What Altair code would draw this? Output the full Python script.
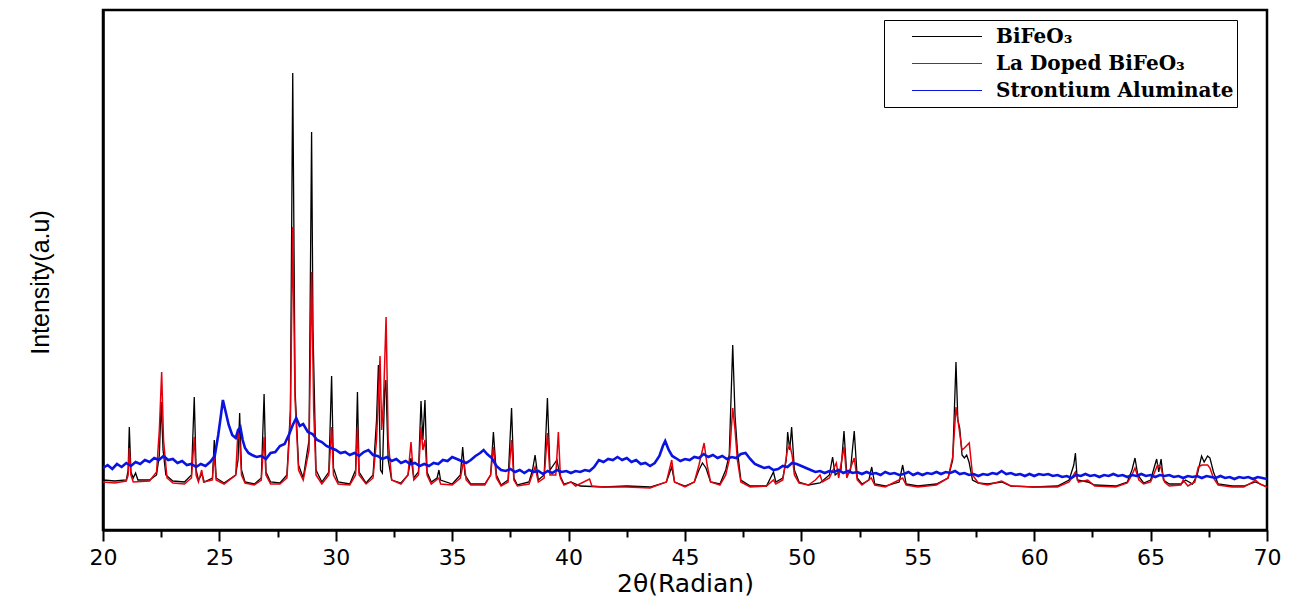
import altair as alt
import pandas as pd

# ---- data (intensity in arbitrary units) ----
bfo_x = [20.0, 20.5, 21.0, 21.08, 21.13, 21.2, 21.3, 21.4, 21.5, 22.0, 22.3, 22.42, 22.5, 22.58, 22.7,
         23.0, 23.5, 23.8, 23.92, 24.0, 24.1, 24.25, 24.35, 24.7, 24.78, 24.86, 25.2, 25.7, 25.8, 25.87,
         25.95, 26.1, 26.5, 26.8, 26.92, 27.0, 27.2, 27.6, 27.9, 28.05, 28.15, 28.25, 28.4, 28.6, 28.85,
         28.96, 29.02, 29.15, 29.4, 29.7, 29.82, 29.9, 30.1, 30.6, 30.85, 30.93, 31.0, 31.3, 31.6, 31.75,
         31.83, 31.92, 32.0, 32.1, 32.15, 32.25, 32.4, 32.8, 33.1, 33.23, 33.35, 33.55, 33.66, 33.74, 33.83,
         33.92, 34.1, 34.35, 34.43, 34.5, 35.0, 35.35, 35.45, 35.55, 35.8, 36.4, 36.65, 36.77, 36.9, 37.1,
         37.4, 37.55, 37.65, 37.8, 38.3, 38.45, 38.56, 38.7, 38.95, 39.09, 39.2, 39.5, 39.62, 39.8, 40.1,
         40.5, 41.5, 42.5, 43.5, 44.2, 44.43, 44.55, 45.0, 45.4, 45.6, 45.75, 45.9, 46.1, 46.5, 46.75,
         46.9, 47.05, 47.15, 47.25, 47.4, 47.8, 48.5, 48.8, 48.9, 49.2, 49.35, 49.41, 49.5, 49.58, 49.7,
         49.9, 50.3, 50.8, 51.2, 51.34, 51.45, 51.7, 51.83, 51.95, 52.1, 52.27, 52.4, 52.6, 52.9, 53.02,
         53.15, 53.6, 54.2, 54.35, 54.5, 55.0, 55.8, 56.3, 56.5, 56.64, 56.72, 56.8, 56.9, 57.0, 57.1,
         57.2, 57.35, 57.6, 58.0, 58.6, 59.0, 60.0, 61.0, 61.5, 61.7, 61.77, 61.85, 62.3, 62.6, 63.5,
         64.0, 64.2, 64.33, 64.45, 64.7, 65.0, 65.26, 65.35, 65.45, 65.55, 65.8, 66.3, 66.5, 66.8, 67.0,
         67.19, 67.3, 67.45, 67.55, 67.7, 67.9, 68.5, 69.0, 69.5, 69.7, 70.0]
bfo_y = [50, 49, 50, 60, 103, 58, 52, 57, 50, 50, 55, 75, 128, 80, 55,
         49, 48, 55, 133, 60, 50, 56, 48, 52, 90, 52, 47, 55, 70, 117,
         60, 48, 46, 52, 136, 58, 48, 47, 55, 120, 457, 140, 65, 52, 90,
         398, 200, 60, 48, 58, 154, 62, 48, 46, 60, 138, 58, 47, 55, 110,
         165, 60, 57, 140, 150, 70, 50, 47, 55, 72, 52, 58, 129, 90, 130,
         58, 48, 52, 60, 50, 46, 55, 83, 55, 46, 46, 55, 98, 55, 45,
         50, 122, 52, 45, 48, 60, 75, 50, 55, 132, 60, 70, 55, 46, 48,
         44, 43, 44, 43, 48, 63, 48, 44, 48, 60, 67, 62, 48, 46, 60,
         75, 185, 114, 80, 50, 44, 44, 58, 48, 52, 70, 98, 80, 103, 60,
         48, 45, 47, 55, 73, 55, 60, 99, 55, 58, 99, 52, 46, 50, 63,
         46, 44, 48, 65, 46, 44, 46, 52, 70, 168, 110, 102, 75, 72, 75,
         68, 50, 47, 46, 48, 44, 43, 44, 50, 65, 77, 50, 48, 45, 44,
         48, 60, 72, 55, 47, 50, 71, 58, 71, 50, 46, 46, 50, 46, 55,
         74, 68, 74, 72, 58, 46, 44, 44, 48, 46, 43]

la_x = [20.0, 20.5, 21.0, 21.08, 21.13, 21.2, 21.3, 22.0, 22.3, 22.42, 22.52, 22.6, 22.75, 23.0, 23.5,
        23.8, 23.92, 24.0, 24.1, 24.24, 24.32, 24.7, 24.78, 24.86, 25.2, 25.7, 25.8, 25.87, 25.95, 26.1,
        26.5, 26.8, 26.92, 27.0, 27.2, 27.6, 27.9, 28.05, 28.15, 28.25, 28.4, 28.6, 28.85, 28.96, 29.05,
        29.15, 29.4, 29.7, 29.82, 29.9, 30.1, 30.6, 30.85, 30.93, 31.0, 31.3, 31.6, 31.75, 31.9, 31.97,
        32.05, 32.16, 32.25, 32.4, 32.8, 33.1, 33.23, 33.35, 33.55, 33.66, 33.74, 33.83, 33.92, 34.1, 34.43,
        34.5, 35.0, 35.35, 35.5, 35.6, 35.8, 36.4, 36.65, 36.77, 36.9, 37.1, 37.4, 37.55, 37.65, 37.8,
        38.3, 38.56, 38.7, 38.95, 39.09, 39.2, 39.45, 39.56, 39.65, 39.8, 40.1, 40.3, 40.9, 41.0, 41.5,
        42.5, 43.5, 44.2, 44.43, 44.55, 45.0, 45.4, 45.6, 45.82, 45.95, 46.1, 46.5, 46.75, 46.9, 47.05,
        47.15, 47.25, 47.4, 47.8, 48.5, 48.8, 48.9, 49.2, 49.4, 49.5, 49.6, 49.7, 49.9, 50.3, 50.6,
        50.8, 50.9, 51.2, 51.5, 51.6, 51.83, 51.95, 52.27, 52.4, 52.6, 53.0, 53.15, 53.6, 54.35, 54.5,
        55.0, 55.8, 56.3, 56.5, 56.64, 56.77, 56.9, 57.0, 57.21, 57.35, 57.6, 58.0, 58.6, 59.0, 60.0,
        61.0, 61.5, 61.77, 61.9, 62.3, 62.6, 63.5, 64.0, 64.2, 64.33, 64.5, 64.7, 65.0, 65.3, 65.45,
        65.6, 65.8, 66.3, 66.4, 66.6, 66.9, 67.05, 67.2, 67.45, 67.55, 67.7, 67.9, 68.5, 69.0, 69.4,
        69.5, 69.7, 70.0]
la_y = [48, 47, 49, 55, 82, 55, 48, 49, 58, 100, 158, 90, 52, 47, 46,
        52, 93, 55, 48, 60, 48, 50, 77, 50, 46, 55, 100, 90, 55, 47,
        45, 50, 93, 55, 46, 46, 52, 110, 303, 130, 60, 50, 80, 258, 120,
        55, 46, 55, 103, 55, 46, 45, 55, 103, 55, 46, 52, 90, 174, 100,
        130, 213, 90, 50, 46, 55, 88, 50, 55, 103, 80, 90, 55, 46, 52,
        46, 45, 52, 70, 50, 45, 45, 55, 83, 52, 44, 48, 90, 50, 44,
        46, 63, 48, 52, 97, 55, 55, 98, 52, 45, 48, 44, 51, 44, 43,
        43, 42, 48, 70, 48, 43, 48, 65, 87, 65, 48, 45, 55, 70, 122,
        100, 70, 48, 43, 44, 50, 46, 50, 80, 85, 75, 55, 47, 45, 50,
        55, 48, 52, 67, 52, 83, 52, 72, 50, 45, 52, 45, 43, 52, 45,
        43, 45, 52, 73, 123, 102, 80, 82, 87, 55, 47, 45, 49, 44, 43,
        43, 48, 58, 48, 50, 44, 43, 47, 55, 62, 50, 46, 48, 65, 62,
        48, 44, 45, 50, 44, 48, 63, 65, 65, 62, 52, 45, 43, 43, 48,
        50, 46, 43]

sa_x = [20.0, 20.2, 20.4, 20.6, 20.8, 21.0, 21.2, 21.4, 21.6, 21.8, 22.0, 22.2, 22.4, 22.6, 22.8,
        23.0, 23.2, 23.4, 23.6, 23.8, 24.0, 24.2, 24.4, 24.6, 24.8, 24.95, 25.05, 25.15, 25.25, 25.4,
        25.55, 25.7, 25.8, 25.9, 26.0, 26.1, 26.25, 26.4, 26.6, 26.8, 27.0, 27.2, 27.4, 27.6, 27.8,
        28.0, 28.15, 28.3, 28.45, 28.6, 28.8, 29.0, 29.2, 29.4, 29.6, 29.8, 30.0, 30.2, 30.4, 30.6,
        30.8, 31.0, 31.2, 31.4, 31.6, 31.8, 32.0, 32.2, 32.4, 32.6, 32.8, 33.0, 33.2, 33.4, 33.6,
        33.8, 34.0, 34.2, 34.4, 34.6, 34.8, 35.0, 35.2, 35.4, 35.6, 35.8, 36.0, 36.2, 36.35, 36.5,
        36.7, 36.9, 37.1, 37.3, 37.5, 37.7, 37.9, 38.1, 38.3, 38.5, 38.7, 38.9, 39.1, 39.3, 39.5,
        39.7, 39.9, 40.1, 40.3, 40.5, 40.7, 40.9, 41.1, 41.3, 41.5, 41.7, 41.9, 42.1, 42.3, 42.5,
        42.7, 42.9, 43.1, 43.3, 43.5, 43.7, 43.9, 44.05, 44.15, 44.3, 44.45, 44.6, 44.8, 45.0, 45.2,
        45.4, 45.6, 45.8, 46.0, 46.2, 46.4, 46.6, 46.8, 47.0, 47.2, 47.4, 47.6, 47.8, 48.0, 48.2,
        48.4, 48.6, 48.8, 49.0, 49.2, 49.4, 49.6, 49.8, 50.0, 50.2, 50.4, 50.6, 50.8, 51.0, 51.2,
        51.4, 51.6, 51.8, 52.0, 52.2, 52.4, 52.6, 52.8, 53.0, 53.2, 53.4, 53.6, 53.8, 54.0, 54.2,
        54.4, 54.6, 54.8, 55.0, 55.2, 55.4, 55.6, 55.8, 56.0, 56.2, 56.4, 56.6, 56.8, 57.0, 57.2,
        57.4, 57.6, 57.8, 58.0, 58.2, 58.4, 58.6, 58.8, 59.0, 59.2, 59.4, 59.6, 59.8, 60.0, 60.2,
        60.4, 60.6, 60.8, 61.0, 61.2, 61.4, 61.6, 61.8, 62.0, 62.2, 62.4, 62.6, 62.8, 63.0, 63.2,
        63.4, 63.6, 63.8, 64.0, 64.2, 64.4, 64.6, 64.8, 65.0, 65.2, 65.4, 65.6, 65.8, 66.0, 66.2,
        66.4, 66.6, 66.8, 67.0, 67.2, 67.4, 67.6, 67.8, 68.0, 68.2, 68.4, 68.6, 68.8, 69.0, 69.2,
        69.4, 69.6, 69.8, 70.0]
sa_y = [62, 65, 61, 66, 63, 67, 64, 68, 66, 70, 68, 72, 70, 74, 70,
        71, 67, 69, 65, 66, 63, 66, 64, 68, 74, 95, 112, 130, 120, 105,
        95, 92, 100, 103, 90, 82, 77, 75, 73, 74, 71, 77, 78, 84, 86,
        96, 105, 112, 104, 106, 98, 96, 90, 88, 84, 82, 80, 77, 78, 75,
        77, 74, 78, 80, 75, 74, 71, 73, 69, 71, 67, 69, 66, 67, 64,
        66, 64, 67, 66, 70, 69, 73, 71, 69, 67, 70, 74, 77, 80, 76,
        72, 64, 60, 59, 61, 58, 60, 57, 60, 58, 59, 56, 59, 57, 60,
        58, 59, 57, 59, 58, 60, 59, 63, 70, 68, 71, 70, 73, 70, 72,
        68, 70, 66, 67, 64, 67, 74, 84, 89, 80, 74, 72, 69, 71, 70,
        73, 72, 76, 73, 75, 72, 74, 71, 73, 72, 76, 77, 71, 66, 64,
        62, 63, 60, 61, 64, 63, 67, 66, 64, 62, 60, 58, 59, 57, 59,
        58, 60, 57, 59, 57, 58, 56, 58, 56, 57, 55, 58, 56, 57, 55,
        56, 58, 55, 57, 55, 57, 56, 58, 56, 58, 57, 59, 56, 57, 55,
        56, 54, 56, 55, 57, 56, 59, 56, 57, 55, 56, 54, 56, 54, 56,
        55, 56, 54, 55, 53, 54, 52, 55, 54, 56, 54, 55, 53, 55, 54,
        56, 54, 55, 53, 55, 54, 56, 54, 55, 53, 55, 54, 55, 53, 54,
        52, 54, 53, 54, 52, 54, 53, 52, 54, 52, 53, 51, 53, 52, 53,
        51, 53, 52, 51]

series_names = ["BiFeO\u2083", "La Doped BiFeO\u2083", "Strontium Aluminate"]
series_colors = ["#000000", "#e4000c", "#0a14e0"]
major_ticks = [20, 25, 30, 35, 40, 45, 50, 55, 60, 65, 70]
minor_ticks = [22.5, 27.5, 32.5, 37.5, 42.5, 47.5, 52.5, 57.5, 62.5, 67.5]

frames = []
for name, xs, ys in zip(series_names, [bfo_x, la_x, sa_x], [bfo_y, la_y, sa_y]):
    frames.append(pd.DataFrame({"two_theta": xs, "intensity": ys, "series": name}))
df = pd.concat(frames, ignore_index=True)

color_scale = alt.Scale(domain=series_names, range=series_colors)
x_scale = alt.Scale(domain=[20, 70], nice=False, zero=False)
y_scale = alt.Scale(domain=[0, 520], nice=False, zero=True)

major_axis = alt.Axis(values=major_ticks, title="2\u03b8(Radian)", orient="bottom",
                      labelFont="DejaVu Sans", labelFontSize=22, labelColor="black",
                      labelPadding=6, tickSize=11, tickWidth=2, tickColor="black",
                      domainColor="black", domainWidth=2.5, grid=False,
                      titleFont="DejaVu Sans", titleFontSize=25, titleFontWeight="normal",
                      titleColor="black", titlePadding=3, labelFlush=False)
minor_axis = alt.Axis(values=minor_ticks, title=None, labels=False, orient="bottom",
                      tickSize=7, tickWidth=2, tickColor="black", domain=False, grid=False)
y_axis = alt.Axis(title="Intensity(a.u)", labels=False, ticks=False, grid=False,
                  domainColor="black", domainWidth=2.5,
                  titleFont="Liberation Sans", titleFontSize=25, titleFontWeight="normal",
                  titleColor="black", titlePadding=50, titleY=272)

legend = alt.Legend(title=None, orient="none", legendX=781, legendY=10,
                    symbolType="stroke", symbolSize=4900, symbolStrokeWidth=1.2,
                    clipHeight=27, symbolOffset=24, labelOffset=13,
                    labelFont="DejaVu Serif", labelFontWeight="bold", labelFontSize=20,
                    labelColor="black", strokeColor="black", fillColor="white",
                    padding=3, rowPadding=0, labelLimit=400)


def layer_for(i, xaxis, width):
    return alt.Chart(df).transform_filter(
        alt.datum.series == series_names[i]
    ).mark_line(strokeWidth=width, clip=True).encode(
        x=alt.X("two_theta:Q", scale=x_scale, axis=xaxis),
        y=alt.Y("intensity:Q", scale=y_scale, axis=y_axis),
        color=alt.Color("series:N", scale=color_scale, legend=legend),
        order="two_theta:Q",
    )


black = layer_for(0, major_axis, 1.3)
red = layer_for(1, minor_axis, 1.5)
blue = layer_for(2, None, 2.6)

chart = alt.layer(black, red, blue).resolve_axis(x="independent").properties(
    width=1164, height=520,
    background="white",
    autosize=alt.AutoSizeParams(type="none"),
    padding={"left": 95, "top": 2, "right": 16, "bottom": 72},
).configure_view(stroke="black", strokeWidth=2.5)

chart.save("out.html", embed_options={"renderer": "svg", "actions": False})
